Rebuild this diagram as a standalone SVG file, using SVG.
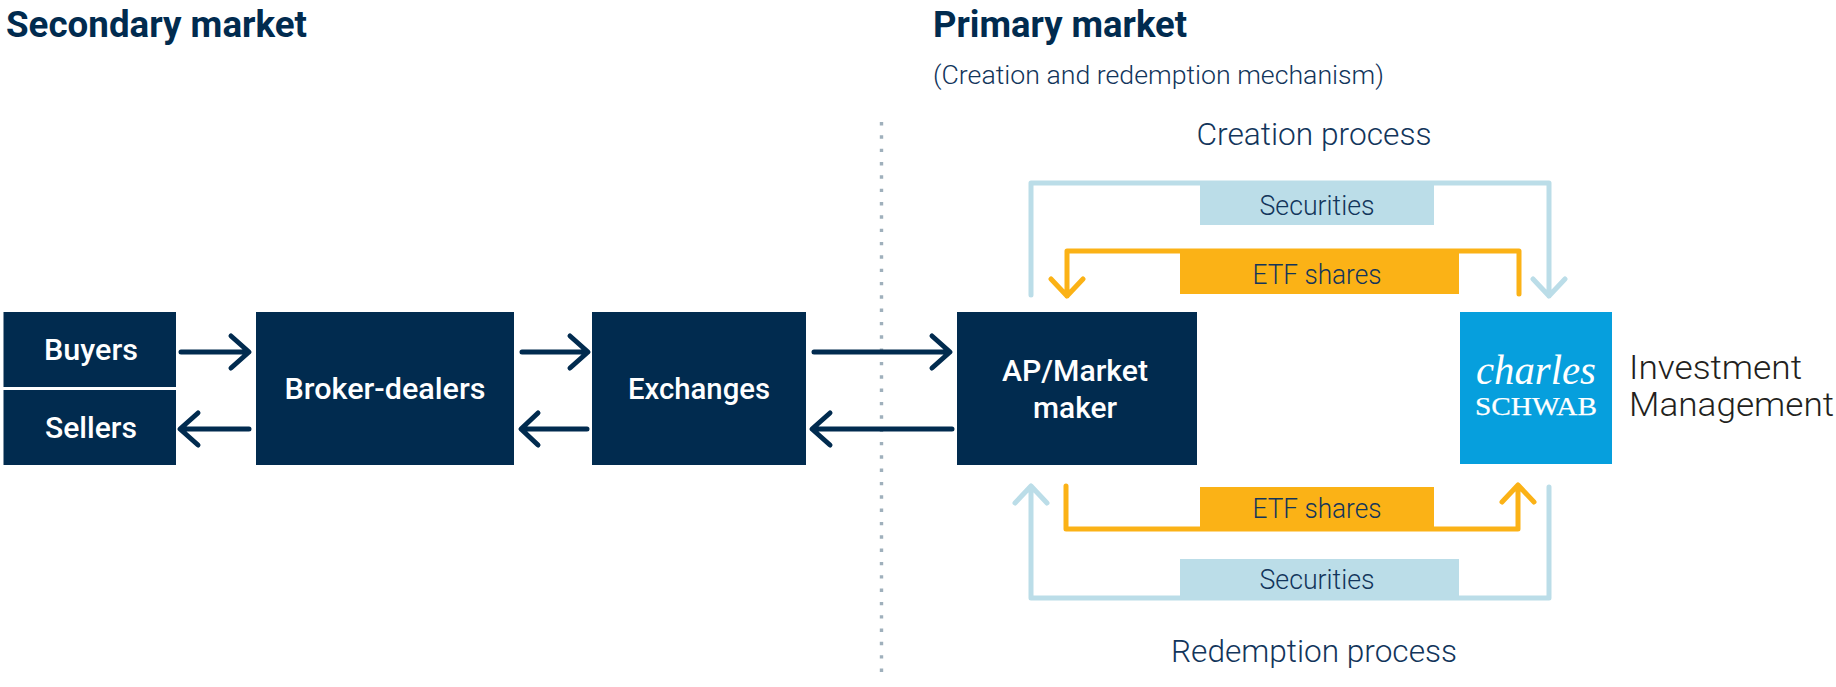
<svg xmlns="http://www.w3.org/2000/svg" width="1836" height="687" viewBox="0 0 1836 687">
<style>
text{font-family:Roboto,"Liberation Sans",sans-serif;text-anchor:middle}
.box{fill:#012b4f}
.w{fill:#fff;font-weight:500;font-size:30px}
.h{fill:#012b4f;font-weight:700;font-size:36px;text-anchor:start}
.p{fill:#12355b;font-weight:300;font-size:32px}
.s{fill:#12355b;font-weight:300;font-size:27px}
.c{fill:none;stroke-linecap:round;stroke-linejoin:round}
.n{stroke:#012b4f;stroke-width:5}
.l{stroke:#bbdde8;stroke-width:5}
.y{stroke:#fbb216;stroke-width:5}
</style>
<rect width="1836" height="687" fill="#fff"/>
<g id="headings">
<text class="h" x="6" y="37" textLength="301" lengthAdjust="spacingAndGlyphs">Secondary market</text>
<text class="h" x="933" y="37" textLength="254" lengthAdjust="spacingAndGlyphs">Primary market</text>
<text x="933" y="84" style="text-anchor:start;fill:#12355b;font-weight:300;font-size:26px" textLength="451" lengthAdjust="spacingAndGlyphs">(Creation and redemption mechanism)</text>
<text class="p" x="1314" y="145" textLength="235" lengthAdjust="spacingAndGlyphs">Creation process</text>
<text class="p" x="1314" y="662" textLength="286" lengthAdjust="spacingAndGlyphs">Redemption process</text>
</g>
<line id="divider" x1="881.5" y1="122" x2="881.5" y2="672" stroke="#9fb0bc" stroke-width="3.4" stroke-dasharray="3.4 9.93"/>
<g id="connectors" class="c">
<path class="n" d="M181 352H248M231 336L249 352L231 368"/>
<path class="n" d="M249 429H181M198 413L180 429L198 445"/>
<path class="n" d="M522 352H587M570 336L588 352L570 368"/>
<path class="n" d="M587 429H522M538 413L521 429L538 445"/>
<path class="n" d="M814 352H949M932 336L950 352L932 368"/>
<path class="n" d="M952 429H813M830 413L812 429L830 445"/>
<path class="c l" d="M1031 295V183H1549V296M1533 279L1549 296L1565 279"/>
<path class="c y" d="M1519 294V251H1067V296M1051 279L1067 296L1083 279"/>
<path class="c y" d="M1066 486V529H1518V485M1502 502L1518 485L1534 502"/>
<path class="c l" d="M1549 487V598H1031V486M1015 503L1031 486L1047 503"/>
</g>
<g id="buyers"><rect class="box" x="3.5" y="312" width="172.500" height="75"/><text class="w" x="91" y="360" textLength="94" lengthAdjust="spacingAndGlyphs">Buyers</text></g>
<g id="sellers"><rect class="box" x="3.5" y="390" width="172.500" height="75"/><text class="w" x="91" y="438" textLength="92" lengthAdjust="spacingAndGlyphs">Sellers</text></g>
<g id="broker-dealers"><rect class="box" x="256" y="312" width="258" height="153"/><text class="w" x="385" y="399" textLength="201" lengthAdjust="spacingAndGlyphs">Broker-dealers</text></g>
<g id="exchanges"><rect class="box" x="592" y="312" width="214" height="153"/><text class="w" x="699" y="399" textLength="142" lengthAdjust="spacingAndGlyphs">Exchanges</text></g>
<g id="ap-market-maker"><rect class="box" x="957" y="312" width="240" height="153"/><text class="w" x="1075" y="381" textLength="146" lengthAdjust="spacingAndGlyphs">AP/Market</text><text class="w" x="1075" y="418" textLength="84" lengthAdjust="spacingAndGlyphs">maker</text></g>
<g id="creation-securities"><rect x="1200" y="183" width="234" height="42" fill="#bbdde8"/><text class="s" x="1317" y="215" textLength="115" lengthAdjust="spacingAndGlyphs">Securities</text></g>
<g id="creation-etf"><rect x="1180" y="251" width="279" height="43" fill="#fbb216"/><text class="s" x="1317" y="284" textLength="129" lengthAdjust="spacingAndGlyphs">ETF shares</text></g>
<g id="redemption-etf"><rect x="1200" y="487" width="234" height="42" fill="#fbb216"/><text class="s" x="1317" y="518" textLength="129" lengthAdjust="spacingAndGlyphs">ETF shares</text></g>
<g id="redemption-securities"><rect x="1180" y="559" width="279" height="40" fill="#bbdde8"/><text class="s" x="1317" y="589" textLength="115" lengthAdjust="spacingAndGlyphs">Securities</text></g>
<g id="schwab">
<rect x="1460" y="312" width="152" height="152" fill="#069fdd"/>
<text x="1536" y="384" style="font-family:'Liberation Serif',serif;font-style:italic;font-size:42px;fill:#fff" textLength="120" lengthAdjust="spacingAndGlyphs">charles</text>
<text x="1536" y="415" style="font-family:'Liberation Serif',serif;font-size:25px;fill:#fff;stroke:#fff;stroke-width:.25" textLength="122" lengthAdjust="spacingAndGlyphs">SCHWAB</text>
<text x="1629" y="379" style="text-anchor:start;font-weight:300;font-size:34px;fill:#231f20" textLength="173" lengthAdjust="spacingAndGlyphs">Investment</text>
<text x="1629" y="416" style="text-anchor:start;font-weight:300;font-size:34px;fill:#231f20" textLength="205" lengthAdjust="spacingAndGlyphs">Management</text>
</g>
</svg>
